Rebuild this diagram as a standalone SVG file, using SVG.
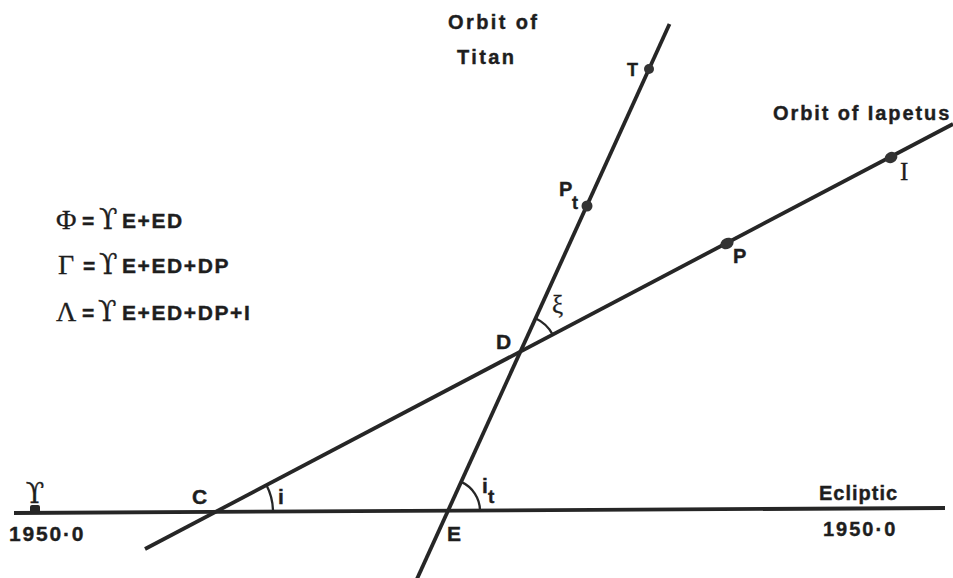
<svg xmlns="http://www.w3.org/2000/svg" width="953" height="578" viewBox="0 0 953 578">
<style>
.ln{stroke:#262626;stroke-width:3.8;fill:none;stroke-linecap:butt}
.arc{stroke:#262626;stroke-width:2.3;fill:none}
.dot{fill:#333}
.s{font-family:"Liberation Sans",Arial,sans-serif;font-weight:bold;fill:#1e1e1e;stroke:#1e1e1e;stroke-width:0.4}
.g{font-family:"Liberation Serif","DejaVu Serif",serif;fill:#1e1e1e;stroke:#1e1e1e;stroke-width:0.3}
.ar{font-family:"DejaVu Serif","Liberation Serif",serif;fill:#1e1e1e;stroke:#1e1e1e;stroke-width:0.3}
.orb{font-size:20px;letter-spacing:2.4px}
.eq{font-size:21px;letter-spacing:1.6px}
</style>
<rect width="953" height="578" fill="#fff"/>
<g id="connectors">
<line id="ecliptic" class="ln" x1="14" y1="513" x2="945" y2="508"/>
<line id="iapetus-orbit" class="ln" x1="145" y1="549" x2="953" y2="124"/>
<line id="titan-orbit" class="ln" x1="416.5" y1="580" x2="669.5" y2="24"/>
<path id="arc-i" class="arc" d="M273,511.7 A58,58 0 0 0 266.4,485"/>
<path id="arc-it" class="arc" d="M480,510.8 A32,32 0 0 0 461.2,481.9"/>
<path id="arc-xi" class="arc" d="M535.3,318.3 A37,37 0 0 1 552.8,334.8"/>
</g>
<g id="node-aries">
<rect x="30" y="505" width="10" height="8" rx="2" fill="#262626"/>
<text class="ar" x="35" y="503" font-size="27" text-anchor="middle">ϒ</text>
</g>
<g id="node-T"><circle class="dot" cx="649" cy="69" r="5"/><text class="s" x="627" y="76" font-size="18">T</text></g>
<g id="node-Pt"><circle class="dot" cx="587" cy="206" r="5.5"/><text class="s" x="559" y="196" font-size="20">P<tspan x="572" y="209" font-size="18">t</tspan></text></g>
<g id="node-P"><ellipse class="dot" cx="727" cy="243.5" rx="7" ry="5.5" transform="rotate(-28 727 243.5)"/><text class="s" x="733" y="263" font-size="20">P</text></g>
<g id="node-I"><ellipse class="dot" cx="891" cy="157.5" rx="6.5" ry="5.5" transform="rotate(-28 891 157.5)"/><text class="g" x="900" y="180" font-size="25">I</text></g>
<g id="node-D"><text class="s" x="496" y="349" font-size="21">D</text><text class="g" x="552" y="313" font-size="25">ξ</text></g>
<g id="node-C"><text class="s" x="192" y="504" font-size="21">C</text><text class="s" x="278" y="504" font-size="21">i</text></g>
<g id="node-E"><text class="s" x="447" y="541" font-size="21">E</text><text class="s" x="482" y="493" font-size="21">i<tspan x="488" y="503" font-size="19">t</tspan></text></g>
<g id="labels">
<text class="s orb" x="448" y="29">Orbit of</text>
<text class="s orb" x="457" y="64">Titan</text>
<text class="s" x="773" y="120" font-size="20" letter-spacing="1.9">Orbit of Iapetus</text>
<text class="s" x="819" y="500" font-size="20" letter-spacing="1">Ecliptic</text>
<text class="s" x="823" y="536" font-size="20" letter-spacing="2">1950·0</text>
<text class="s" x="9" y="541" font-size="21" letter-spacing="1.8">1950·0</text>
</g>
<g id="equations">
<text class="g" x="56" y="229" font-size="28">Φ</text><text class="s eq" x="82" y="228">=</text><text class="ar" x="99" y="229" font-size="27">ϒ</text><text class="s eq" x="122" y="228">E+ED</text>
<text class="g" x="58" y="274" font-size="28">Γ</text><text class="s eq" x="83" y="273">=</text><text class="ar" x="99" y="274" font-size="27">ϒ</text><text class="s eq" x="122" y="273">E+ED+DP</text>
<text class="g" x="56" y="321" font-size="28">Λ</text><text class="s eq" x="82" y="320">=</text><text class="ar" x="98" y="321" font-size="27">ϒ</text><text class="s eq" x="122" y="320">E+ED+DP+I</text>
</g>
</svg>
